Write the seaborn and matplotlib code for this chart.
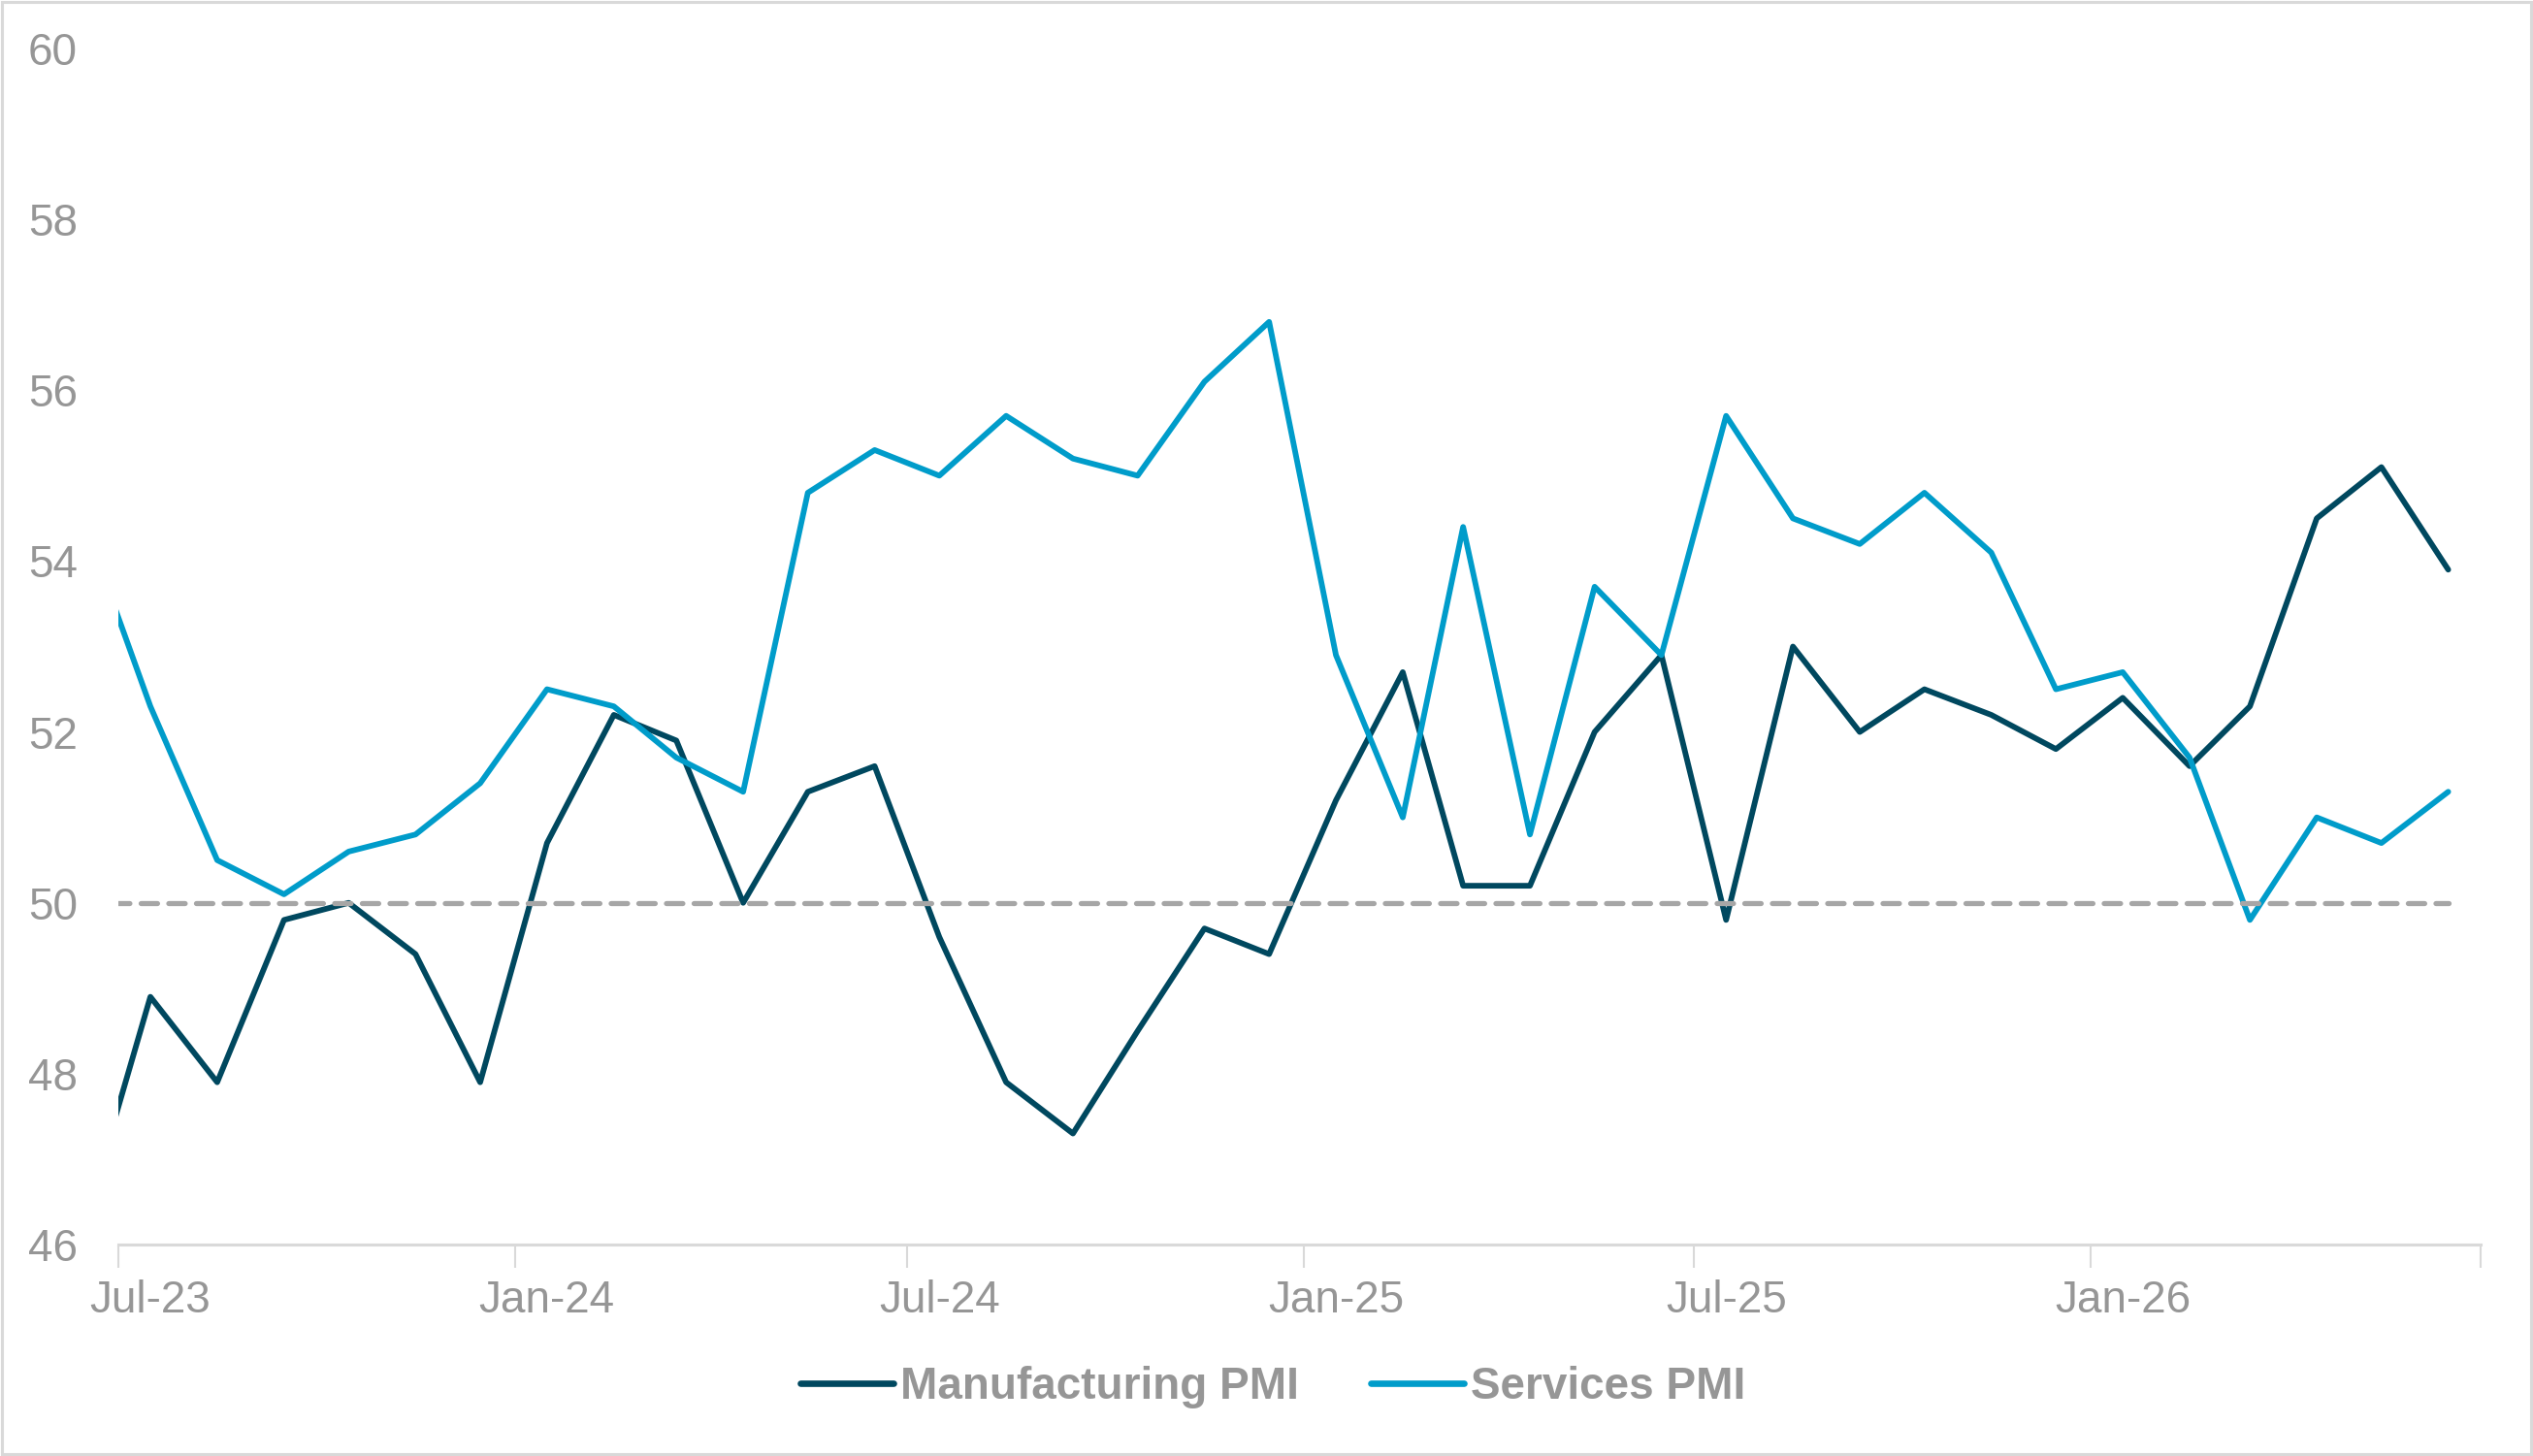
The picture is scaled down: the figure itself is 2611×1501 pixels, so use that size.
import pandas as pd
import seaborn as sns
import matplotlib.pyplot as plt
import matplotlib.dates as mdates
from matplotlib.patches import Rectangle

# monthly PMI readings, Jun-23 .. Jun-26 (the Jun-23 point sits just left of the axis and gets clipped)
months = pd.date_range("2023-06-01", periods=37, freq="MS")
manufacturing = [46.3, 48.9, 47.9, 49.8, 50.0, 49.4, 47.9,
                 50.7, 52.2, 51.9, 50.0, 51.3, 51.6, 49.6, 47.9, 47.3, 48.5, 49.7, 49.4,
                 51.2, 52.7, 50.2, 50.2, 52.0, 52.9, 49.8, 53.0, 52.0, 52.5, 52.2, 51.8,
                 52.4, 51.6, 52.3, 54.5, 55.1, 53.9]
services = [54.4, 52.3, 50.5, 50.1, 50.6, 50.8, 51.4,
            52.5, 52.3, 51.7, 51.3, 54.8, 55.3, 55.0, 55.7, 55.2, 55.0, 56.1, 56.8,
            52.9, 51.0, 54.4, 50.8, 53.7, 52.9, 55.7, 54.5, 54.2, 54.8, 54.1, 52.5,
            52.7, 51.7, 49.8, 51.0, 50.7, 51.3]
threshold = [50] * 37
yticks = [46, 48, 50, 52, 54, 56, 58, 60]

# points plotted at mid-month like the excel date axis
dates = months + pd.Timedelta(days=15)

df = pd.DataFrame({
    "date": list(dates) * 2,
    "value": manufacturing + services,
    "series": ["Manufacturing PMI"] * 37 + ["Services PMI"] * 37,
})
df_thr = pd.DataFrame({"date": dates, "value": threshold})

sns.set_theme(style="white")
plt.rcParams["font.family"] = ["Liberation Sans", "DejaVu Sans"]

grey = "#969696"
fig = plt.figure(figsize=(26.11, 15.01), dpi=100)
ax = fig.add_axes([0.0466, 0.1452, 0.9327, 0.8215])

sns.lineplot(data=df, x="date", y="value", hue="series", ax=ax,
             palette={"Manufacturing PMI": "#00485F", "Services PMI": "#009CCA"},
             linewidth=4.2, solid_joinstyle="round", solid_capstyle="round")
sns.lineplot(data=df_thr, x="date", y="value", ax=ax, color="#A6A6A6",
             linewidth=3.8, dashes=False, legend=False, zorder=5)
ax.lines[-1].set_dashes([3.2, 2.2])
ax.lines[-1].set_dash_capstyle("round")

ax.set_xlim(pd.Timestamp("2023-07-01"), pd.Timestamp("2026-07-01"))
ax.set_ylim(46, 60)
ax.set_yticks(yticks)
ax.set_xlabel("")
ax.set_ylabel("")

# tick marks on the 1st of Jan/Jul, labels centred on the month
ax.xaxis.set_major_locator(mdates.MonthLocator(bymonth=[1, 7]))
ax.xaxis.set_major_formatter(plt.NullFormatter())
ax.xaxis.set_minor_locator(mdates.MonthLocator(bymonth=[1, 7], bymonthday=16))
ax.xaxis.set_minor_formatter(mdates.DateFormatter("%b-%y"))
ax.tick_params(axis="x", which="major", length=17, width=1.5, color="#D9D9D9", bottom=True)
ax.tick_params(axis="x", which="minor", length=0, pad=26, labelsize=33, labelcolor=grey)
ax.tick_params(axis="y", length=0, pad=30, labelsize=33, labelcolor=grey)

for s in ["left", "right", "top"]:
    ax.spines[s].set_visible(False)
ax.spines["bottom"].set_color("#D9D9D9")
ax.spines["bottom"].set_linewidth(2.2)

handles, labels = ax.get_legend_handles_labels()
ax.get_legend().remove()
for h in handles:
    h.set_linewidth(4.8)
fig.legend(handles, labels, loc="center", bbox_to_anchor=(0.5025, 0.047), ncol=2,
           frameon=False, handlelength=2.1, handletextpad=0.15, columnspacing=1.6,
           prop={"weight": "bold", "size": 33}, labelcolor=grey)

# thin grey frame round the whole picture
fig.patches.append(Rectangle((0.0006, 0.001), 0.9988, 0.998, transform=fig.transFigure,
                             fill=False, edgecolor="#D9D9D9", linewidth=2.2))

fig.savefig("out.png", dpi=100)
